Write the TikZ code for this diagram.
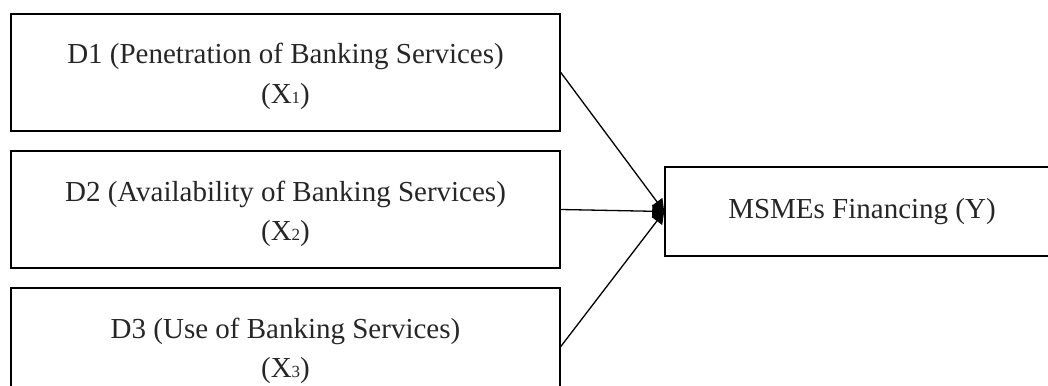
\documentclass[tikz,border=0pt]{standalone}
\usepackage{fontspec}
\setmainfont{Liberation Serif}
\usetikzlibrary{arrows.meta}
\newcommand{\smallidx}[1]{{\fontsize{17}{17}\selectfont #1}}
\begin{document}
\begin{tikzpicture}[x=1pt,y=-1pt,
  box/.style={draw=black, line width=1.6pt, minimum width=549pt, minimum height=117pt, inner sep=0pt},
  ybox/.style={draw=black, line width=1.6pt, minimum width=394pt, minimum height=89pt,
    align=center, inner sep=0pt, text=black!85, font=\fontsize{29}{33}\selectfont},
  lbl/.style={anchor=base, inner sep=0pt, text=black!85, font=\fontsize{29}{33}\selectfont},
  link/.style={line width=1.3pt, -{Triangle[length=12pt,width=13pt]}}]
\useasboundingbox (0,0) rectangle (1048,385);
\clip (0,0) rectangle (1048,385);
\node[box] (d1) at (285.5,72.5) {};
\node[box] (d2) at (285.5,209.5) {};
\node[box] (d3) at (285.5,346.5) {};
\node[lbl] (d1a) at (285.5,64) {D1 (Penetration of Banking Services)};
\node[lbl] (d1b) at (285.5,103) {(X\smallidx{1})};
\node[lbl] (d2a) at (285.5,201) {D2 (Availability of Banking Services)};
\node[lbl] (d2b) at (285.5,240) {(X\smallidx{2})};
\node[lbl] (d3a) at (285.5,338) {D3 (Use of Banking Services)};
\node[lbl] (d3b) at (285.5,377) {(X\smallidx{3})};
\node[ybox] (y) at (862,211.5) {MSMEs Financing (Y)};
\draw[link] (d1.east) -- (y.west);
\draw[link] (d2.east) -- (y.west);
\draw[link] (d3.east) -- (y.west);
\end{tikzpicture}
\end{document}
